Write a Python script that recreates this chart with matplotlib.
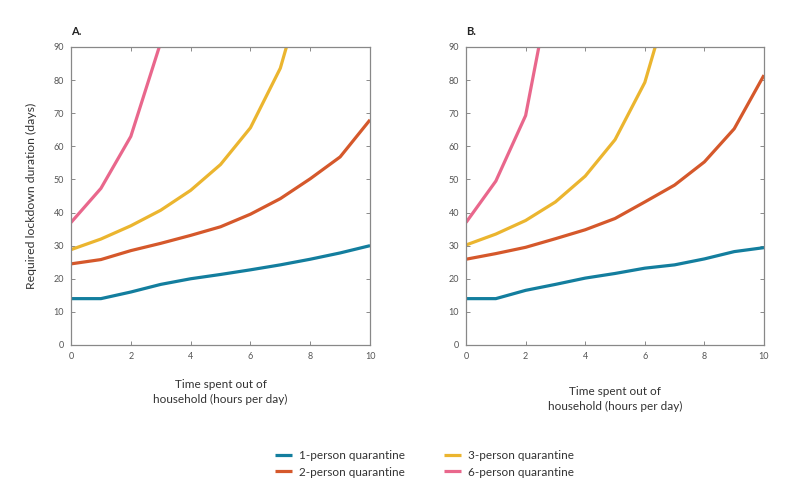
import matplotlib
matplotlib.use('Agg')
import matplotlib.pyplot as plt

plt.rcParams['font.family'] = ['Lato', 'DejaVu Sans']

hours = [0, 1, 2, 3, 4, 5, 6, 7, 8, 9, 10]

# panel A
a_one = [14, 14, 16, 18.3, 20, 21.3, 22.7, 24.2, 25.9, 27.8, 30]
a_two = [24.5, 25.8, 28.5, 30.7, 33.1, 35.7, 39.5, 44.2, 50.2, 56.8, 68]
a_three = [28.8, 32, 36, 40.7, 46.7, 54.5, 65.6, 83.6, 115]
a_six = [37, 47.3, 63, 91.4]

# panel B
b_one = [14, 14, 16.5, 18.3, 20.2, 21.6, 23.2, 24.2, 26, 28.2, 29.4]
b_two = [25.9, 27.6, 29.5, 32.1, 34.8, 38.2, 43.2, 48.3, 55.3, 65.3, 81.5]
b_three = [30.2, 33.5, 37.6, 43.2, 51, 62, 79.3, 110]
b_six = [37, 49.5, 69.3, 116]

labels = ['1-person quarantine', '2-person quarantine', '3-person quarantine', '6-person quarantine']
colors = ['#137e9e', '#d5582b', '#ebb52f', '#e9678c']

fig = plt.figure(figsize=(7.98, 4.92), dpi=100)
axA = fig.add_axes([0.0890, 0.2988, 0.3747, 0.6057])
axB = fig.add_axes([0.5840, 0.2988, 0.3734, 0.6057])

panels = [(axA, [a_one, a_two, a_three, a_six], 'A.'),
          (axB, [b_one, b_two, b_three, b_six], 'B.')]

handles = []
for ax, series, title in panels:
    handles = []
    for vals, col, lab in zip(series, colors, labels):
        h, = ax.plot(hours[:len(vals)], vals, color=col, lw=2.3, label=lab,
                     solid_capstyle='butt', clip_on=True)
        handles.append(h)
    ax.set_xlim(0, 10)
    ax.set_ylim(0, 90)
    ax.set_xticks([0, 2, 4, 6, 8, 10])
    ax.set_yticks(range(0, 91, 10))
    ax.tick_params(direction='in', length=3, width=0.6, colors='#777777',
                   labelcolor='#555555', labelsize=6.5, top=True, right=True, pad=5)
    for s in ax.spines.values():
        s.set_color('#888888')
        s.set_linewidth(0.9)
    ax.text(0, 1.035, title, transform=ax.transAxes, fontsize=8,
            fontweight='bold', color='#222222', va='bottom', ha='left')

axA.set_ylabel('Required lockdown duration (days)', fontsize=8.8, color='#333333', labelpad=12)
axA.set_xlabel('Time spent out of\nhousehold (hours per day)', fontsize=8.5,
               color='#333333', labelpad=13, linespacing=1.4)
axB.set_xlabel('Time spent out of\nhousehold (hours per day)', fontsize=8.5,
               color='#333333', labelpad=18, linespacing=1.4)

fig.legend(handles, labels, ncol=2, loc='center', bbox_to_anchor=(0.532, 0.057),
           frameon=False, fontsize=8.5, handlelength=1.4, handletextpad=0.6,
           columnspacing=3.3, labelspacing=0.45, labelcolor='#333333')

fig.savefig('out.png', dpi=100)
